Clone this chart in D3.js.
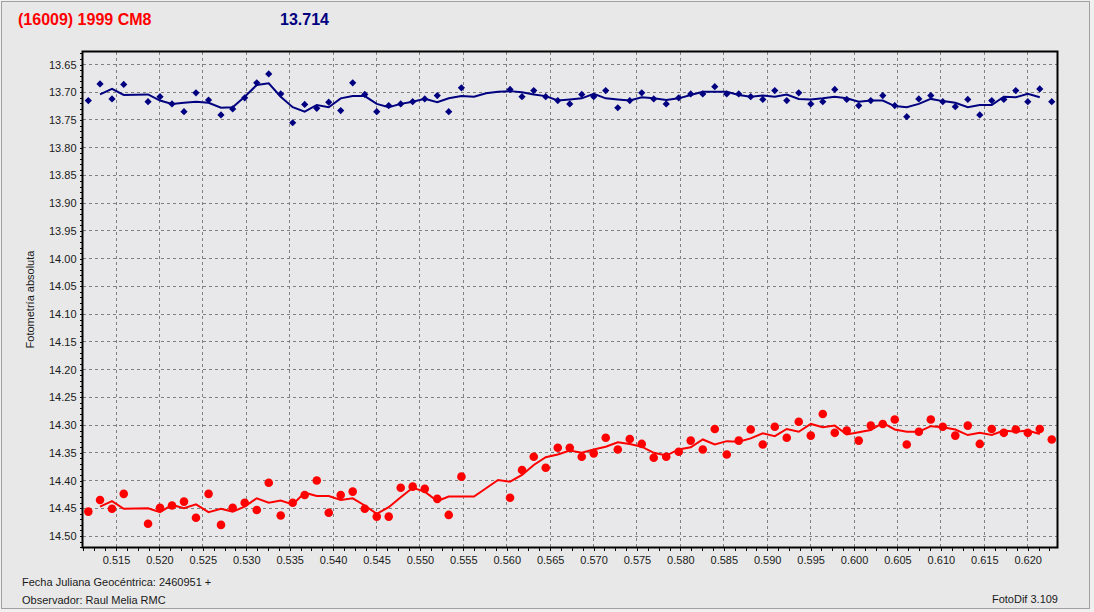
<!DOCTYPE html>
<html lang="es">
<head>
<meta charset="utf-8">
<title>(16009) 1999 CM8 - FotoDif</title>
<script src="https://cdn.jsdelivr.net/npm/d3@7"></script>
<style>
    body {
        margin: 0;
        background: #f0f0f0;
    }
    svg {
        display: block;
        font-family: "Liberation Sans", Arial, sans-serif;
    }
    .tick text {
        font-size: 11px;
        fill: #1a1a1a;
    }
    .tick line {
        stroke: #000;
        shape-rendering: crispEdges;
    }
    .grid line {
        stroke: #808080;
        stroke-dasharray: 3,3;
        shape-rendering: crispEdges;
    }
</style>
</head>
<body>
<svg id="chart" width="1094" height="612"></svg>

<script>
    // textos de cabecera y pie
    const objeto = "(16009) 1999 CM8";
    const magMedia = "13.714";
    const fechaBase = "Fecha Juliana Geocéntrica: 2460951 +";
    const observador = "Observador: Raul Melia RMC";
    const version = "FotoDif 3.109";

    // ticks de los ejes
    const xTicks = [0.515, 0.520, 0.525, 0.530, 0.535, 0.540, 0.545, 0.550, 0.555, 0.560, 0.565,
        0.570, 0.575, 0.580, 0.585, 0.590, 0.595, 0.600, 0.605, 0.610, 0.615, 0.620];
    const yTicks = [13.65, 13.70, 13.75, 13.80, 13.85, 13.90, 13.95, 14.00, 14.05, 14.10, 14.15,
        14.20, 14.25, 14.30, 14.35, 14.40, 14.45, 14.50];

    // instantes de las tomas (fraccion de JD)
    const jd = [0.51181, 0.51316, 0.51454, 0.51589, 0.51869, 0.52007, 0.52145, 0.52283, 0.52421, 0.52566,
        0.52709, 0.52844, 0.52982, 0.53121, 0.53259, 0.53397, 0.53535, 0.53673, 0.53812, 0.53950,
        0.54088, 0.54226, 0.54365, 0.54503, 0.54641, 0.54779, 0.54917, 0.55056, 0.55200, 0.55332,
        0.55478, 0.56038, 0.56176, 0.56311, 0.56449, 0.56588, 0.56726, 0.56864, 0.57002, 0.57140,
        0.57279, 0.57417, 0.57555, 0.57693, 0.57837, 0.57981, 0.58119, 0.58258, 0.58396, 0.58534,
        0.58672, 0.58810, 0.58949, 0.59087, 0.59225, 0.59363, 0.59502, 0.59640, 0.59778, 0.59916,
        0.60054, 0.60193, 0.60331, 0.60469, 0.60607, 0.60746, 0.60884, 0.61022, 0.61166, 0.61310,
        0.61448, 0.61586, 0.61725, 0.61863, 0.62001, 0.62139, 0.62277];

    // estrella de comparacion (azul)
    const magComparacion = [13.715, 13.685, 13.712, 13.686, 13.717, 13.708, 13.721, 13.735, 13.701, 13.714,
        13.741, 13.730, 13.710, 13.683, 13.667, 13.703, 13.755, 13.722, 13.729, 13.718,
        13.733, 13.683, 13.704, 13.735, 13.724, 13.721, 13.717, 13.712, 13.706, 13.735,
        13.692, 13.695, 13.708, 13.697, 13.708, 13.715, 13.721, 13.704, 13.708, 13.697,
        13.728, 13.715, 13.701, 13.712, 13.721, 13.710, 13.703, 13.703, 13.690, 13.703,
        13.703, 13.708, 13.713, 13.697, 13.715, 13.701, 13.721, 13.717, 13.695, 13.713,
        13.724, 13.715, 13.706, 13.724, 13.744, 13.712, 13.706, 13.717, 13.726, 13.713,
        13.741, 13.715, 13.713, 13.697, 13.717, 13.694, 13.717];

    // asteroide (rojo)
    const magAsteroide = [14.456, 14.435, 14.451, 14.424, 14.478, 14.449, 14.445, 14.438, 14.467, 14.424,
        14.480, 14.449, 14.440, 14.453, 14.404, 14.463, 14.440, 14.426, 14.400, 14.458,
        14.426, 14.420, 14.451, 14.465, 14.465, 14.413, 14.411, 14.415, 14.433, 14.462,
        14.393, 14.431, 14.381, 14.357, 14.377, 14.341, 14.341, 14.357, 14.351, 14.323,
        14.344, 14.325, 14.334, 14.359, 14.357, 14.348, 14.328, 14.344, 14.307, 14.353,
        14.328, 14.308, 14.335, 14.303, 14.323, 14.294, 14.319, 14.280, 14.314, 14.310,
        14.328, 14.301, 14.298, 14.290, 14.335, 14.312, 14.290, 14.303, 14.319, 14.301,
        14.334, 14.307, 14.314, 14.308, 14.314, 14.307, 14.326];

    // curvas suavizadas
    const jdSuave = [0.51316, 0.51454, 0.51589, 0.51869, 0.52007, 0.52145, 0.52283, 0.52421, 0.52566, 0.52709,
        0.52844, 0.52982, 0.53121, 0.53259, 0.53397, 0.53535, 0.53673, 0.53812, 0.53950, 0.54088,
        0.54226, 0.54365, 0.54503, 0.54641, 0.54779, 0.54917, 0.55056, 0.55200, 0.55332, 0.55478,
        0.55623, 0.55762, 0.55900,
        0.56038, 0.56176, 0.56311, 0.56449, 0.56588, 0.56726, 0.56864, 0.57002, 0.57140, 0.57279,
        0.57417, 0.57555, 0.57693, 0.57837, 0.57981, 0.58119, 0.58258, 0.58396, 0.58534, 0.58672,
        0.58810, 0.58949, 0.59087, 0.59225, 0.59363, 0.59502, 0.59640, 0.59778, 0.59916, 0.60054,
        0.60193, 0.60331, 0.60469, 0.60607, 0.60746, 0.60884, 0.61022, 0.61166, 0.61310, 0.61448,
        0.61586, 0.61725, 0.61863, 0.62001, 0.62139];
    const suaveComparacion = [13.704, 13.694, 13.705, 13.704, 13.715, 13.721, 13.719, 13.717, 13.719, 13.728,
        13.727, 13.708, 13.687, 13.684, 13.708, 13.727, 13.735, 13.723, 13.727, 13.711,
        13.707, 13.707, 13.721, 13.727, 13.721, 13.717, 13.712, 13.718, 13.711, 13.707,
        13.708, 13.702, 13.699,
        13.698, 13.700, 13.704, 13.707, 13.715, 13.713, 13.711, 13.703, 13.711, 13.713,
        13.715, 13.709, 13.711, 13.714, 13.711, 13.705, 13.699, 13.699, 13.699, 13.705,
        13.708, 13.706, 13.708, 13.704, 13.712, 13.713, 13.711, 13.708, 13.711, 13.717,
        13.715, 13.715, 13.725, 13.727, 13.721, 13.712, 13.716, 13.719, 13.727, 13.723,
        13.723, 13.708, 13.709, 13.703, 13.709];
    const suaveAsteroide = [14.447, 14.437, 14.451, 14.450, 14.457, 14.444, 14.450, 14.443, 14.457, 14.451,
        14.456, 14.447, 14.432, 14.440, 14.436, 14.443, 14.422, 14.428, 14.428, 14.435,
        14.432, 14.445, 14.460, 14.448, 14.430, 14.413, 14.420, 14.437, 14.429, 14.429,
        14.429, 14.414, 14.399,
        14.402, 14.390, 14.372, 14.358, 14.353, 14.346, 14.350, 14.344, 14.339, 14.331,
        14.334, 14.339, 14.350, 14.355, 14.344, 14.340, 14.326, 14.335, 14.329, 14.330,
        14.324, 14.315, 14.320, 14.307, 14.312, 14.298, 14.304, 14.301, 14.317, 14.313,
        14.309, 14.296, 14.308, 14.312, 14.312, 14.302, 14.304, 14.308, 14.318, 14.314,
        14.318, 14.310, 14.312, 14.310, 14.316];

    const W = 1094, H = 612;
    const margin = {top: 51.5, right: 36.5, bottom: 64.5, left: 82.5},
        width = W - margin.left - margin.right,
        height = H - margin.top - margin.bottom;

    const svg = d3.select("#chart");

    // fondo de la ventana
    svg.append("rect")
        .attr("x", 1.5).attr("y", 1.5)
        .attr("width", W - 6).attr("height", H - 5)
        .attr("fill", "#e8e8e8")
        .attr("stroke", "#a0a0a0");

    svg.append("text")
        .attr("x", 18).attr("y", 25)
        .attr("fill", "#ff0000")
        .style("font-size", "16px").style("font-weight", "bold")
        .text(objeto);

    svg.append("text")
        .attr("x", 280).attr("y", 25)
        .attr("fill", "#000080")
        .style("font-size", "16px").style("font-weight", "bold")
        .text(magMedia);

    const g = svg.append("g")
        .attr("transform", `translate(${margin.left},${margin.top})`);

    const x = d3.scaleLinear()
        .domain([0.511141, 0.623432])
        .range([0, width]);

    const y = d3.scaleLinear()
        .domain([13.62656, 14.52073])
        .range([0, height]);

    g.append("rect")
        .attr("width", width).attr("height", height)
        .attr("fill", "#e8e8ea");

    // rejilla punteada
    const grid = g.append("g").attr("class", "grid");
    grid.selectAll("line.v")
        .data(xTicks)
        .enter().append("line")
        .attr("class", "v")
        .attr("x1", d => x(d)).attr("x2", d => x(d))
        .attr("y1", 0).attr("y2", height);
    grid.selectAll("line.h")
        .data(yTicks)
        .enter().append("line")
        .attr("class", "h")
        .attr("x1", 0).attr("x2", width)
        .attr("y1", d => y(d)).attr("y2", d => y(d));

    // ejes: marcas mayores con etiqueta y menores sin ella
    const xMinor = d3.range(0.51125, 0.6234, 0.00125);
    const yMinor = d3.range(13.63, 14.521, 0.01);

    g.append("g")
        .attr("transform", `translate(0,${height})`)
        .call(d3.axisBottom(x).tickValues(xMinor).tickSize(3).tickFormat(""))
        .call(a => a.select(".domain").remove());
    g.append("g")
        .attr("transform", `translate(0,${height})`)
        .call(d3.axisBottom(x).tickValues(xTicks).tickFormat(d3.format(".3f")).tickSize(3).tickPadding(6))
        .call(a => a.select(".domain").remove());

    g.append("g")
        .call(d3.axisLeft(y).tickValues(yMinor).tickSize(3).tickFormat(""))
        .call(a => a.select(".domain").remove());
    g.append("g")
        .call(d3.axisLeft(y).tickValues(yTicks).tickFormat(d3.format(".2f")).tickSize(3).tickPadding(3))
        .call(a => a.select(".domain").remove());

    g.selectAll(".tick text").attr("font-family", null).attr("font-size", null);

    const linea = d3.line()
        .x((d, i) => x(jdSuave[i]))
        .y(d => y(d));

    // asteroide
    g.append("path")
        .datum(suaveAsteroide)
        .attr("fill", "none")
        .attr("stroke", "#ff0000")
        .attr("stroke-width", 2)
        .attr("d", linea);

    g.selectAll("circle.ast")
        .data(magAsteroide)
        .enter().append("circle")
        .attr("class", "ast")
        .attr("cx", (d, i) => x(jd[i]))
        .attr("cy", d => y(d))
        .attr("r", 4.3)
        .attr("fill", "#ff0000");

    // comparacion
    g.append("path")
        .datum(suaveComparacion)
        .attr("fill", "none")
        .attr("stroke", "#000080")
        .attr("stroke-width", 2)
        .attr("d", linea);

    const rombo = d3.symbol().type(d3.symbolSquare).size(26);
    g.selectAll("path.comp")
        .data(magComparacion)
        .enter().append("path")
        .attr("class", "comp")
        .attr("d", rombo)
        .attr("transform", (d, i) => `translate(${x(jd[i])},${y(d)}) rotate(45)`)
        .attr("fill", "#000080");

    // marco del grafico
    g.append("rect")
        .attr("width", width).attr("height", height)
        .attr("fill", "none")
        .attr("stroke", "#000")
        .attr("stroke-width", 2);

    svg.append("text")
        .attr("transform", `translate(34,${margin.top + height / 2}) rotate(-90)`)
        .attr("text-anchor", "middle")
        .attr("fill", "#1a1a1a")
        .style("font-size", "11px")
        .text("Fotometría absoluta");

    svg.append("text")
        .attr("x", 22).attr("y", 586)
        .attr("fill", "#1a1a1a")
        .style("font-size", "11px")
        .text(fechaBase);

    svg.append("text")
        .attr("x", 22).attr("y", 604)
        .attr("fill", "#1a1a1a")
        .style("font-size", "11px")
        .text(observador);

    svg.append("text")
        .attr("x", 1058).attr("y", 603)
        .attr("text-anchor", "end")
        .attr("fill", "#1a1a1a")
        .style("font-size", "11px")
        .text(version);
</script>
</body>
</html>
